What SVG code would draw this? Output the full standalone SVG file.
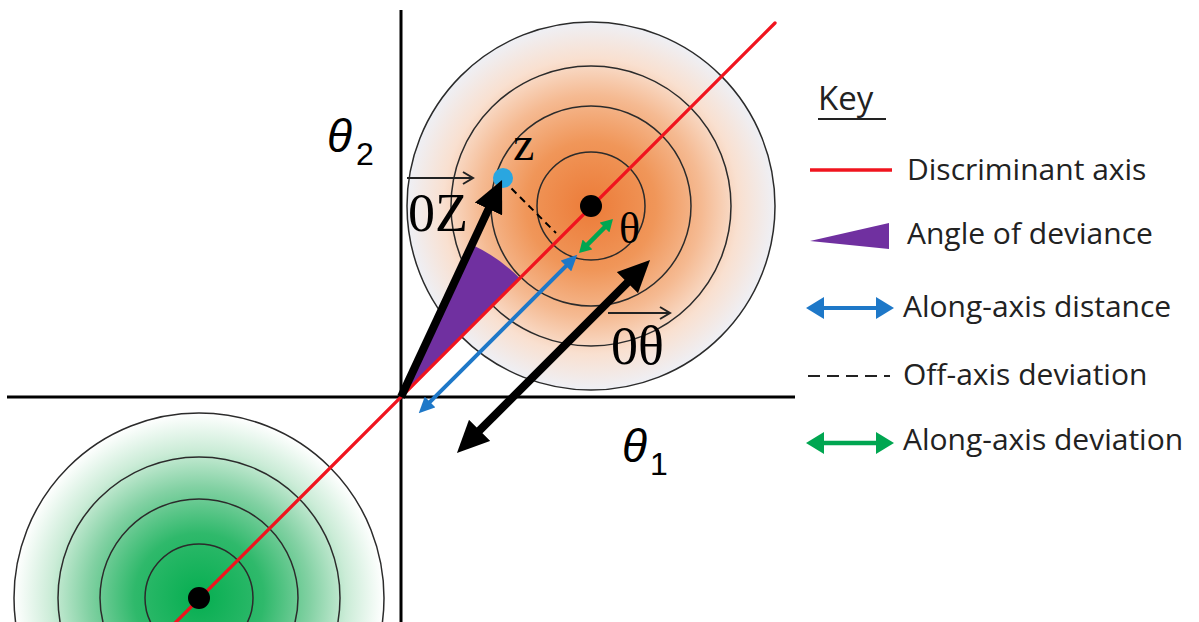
<svg xmlns="http://www.w3.org/2000/svg" width="1199" height="622" viewBox="0 0 1199 622">
<defs>
  <radialGradient id="gOrange" gradientUnits="userSpaceOnUse" cx="591" cy="206" r="185">
    <stop offset="0" stop-color="#EC7B38"/>
    <stop offset="0.35" stop-color="#F09659"/>
    <stop offset="0.6" stop-color="#F5BA92"/>
    <stop offset="0.8" stop-color="#F9E0D0"/>
    <stop offset="1" stop-color="#EEF0F6"/>
  </radialGradient>
  <radialGradient id="gGreen" gradientUnits="userSpaceOnUse" cx="199" cy="598" r="185">
    <stop offset="0" stop-color="#05AE50"/>
    <stop offset="0.35" stop-color="#2FB96B"/>
    <stop offset="0.6" stop-color="#82D1A3"/>
    <stop offset="0.8" stop-color="#CBECD7"/>
    <stop offset="1" stop-color="#FFFFFF"/>
  </radialGradient>
  <marker id="mBlack" markerUnits="userSpaceOnUse" viewBox="0 0 32 30" refX="12" refY="15" markerWidth="32" markerHeight="30" orient="auto-start-reverse">
    <path d="M0,0 L32,15 L0,30 z" fill="#000"/>
  </marker>
  <marker id="mBlue" markerUnits="userSpaceOnUse" viewBox="0 0 16 15" refX="6" refY="7.5" markerWidth="16" markerHeight="15" orient="auto-start-reverse">
    <path d="M0,0 L16,7.5 L0,15 z" fill="#1E78C8"/>
  </marker>
  <marker id="mGreen" markerUnits="userSpaceOnUse" viewBox="0 0 12 14" refX="4" refY="7" markerWidth="12" markerHeight="14" orient="auto-start-reverse">
    <path d="M0,0 L12,7 L0,14 z" fill="#00A651"/>
  </marker>
  <marker id="mKeyBlue" markerUnits="userSpaceOnUse" viewBox="0 0 18 22" refX="6" refY="11" markerWidth="18" markerHeight="22" orient="auto-start-reverse">
    <path d="M0,0 L18,11 L0,22 z" fill="#1E78C8"/>
  </marker>
  <marker id="mKeyGreen" markerUnits="userSpaceOnUse" viewBox="0 0 18 22" refX="6" refY="11" markerWidth="18" markerHeight="22" orient="auto-start-reverse">
    <path d="M0,0 L18,11 L0,22 z" fill="#00A651"/>
  </marker>
</defs>
<style>
  .ring { fill: none; stroke: #2b2b2b; stroke-width: 1.5; }
  .og { fill: url(#gOrange); }
  .gg { fill: url(#gGreen); }
  .axis { stroke: #000; stroke-width: 3; fill: none; }
  .red { stroke: #F0141E; stroke-width: 3.3; fill: none; }
  .blk { stroke: #000; stroke-width: 8; fill: none; }
  .blue { stroke: #1E78C8; stroke-width: 4; fill: none; }
  .green { stroke: #00A651; stroke-width: 4.5; fill: none; }
  .dash { stroke: #000; stroke-width: 2; stroke-dasharray: 7 5; fill: none; }
  .ovl { stroke: #222; stroke-width: 2; fill: none; }
  .key { font-family: "Open Sans", "Liberation Sans", sans-serif; font-size: 30px; fill: #222; }
  .title { font-size: 33px; }
  .sym { font-family: "Liberation Sans", sans-serif; font-style: italic; font-size: 46px; fill: #000; }
  .sub { font-family: "Liberation Sans", sans-serif; font-size: 32px; fill: #000; }
  .ser { font-family: "Liberation Serif", serif; fill: #000; }
</style>
<rect width="1199" height="622" fill="#fff"/>

<g id="green-distribution">
  <circle cx="199" cy="598" r="185" class="ring gg"/>
  <circle cx="199" cy="598" r="141" class="ring"/>
  <circle cx="199" cy="598" r="99" class="ring"/>
  <circle cx="199" cy="598" r="54" class="ring"/>
</g>

<g id="orange-distribution">
  <circle cx="591" cy="206" r="184" class="ring og"/>
  <circle cx="591" cy="206" r="140" class="ring"/>
  <circle cx="591" cy="206" r="100" class="ring"/>
  <circle cx="591" cy="206" r="54" class="ring"/>
</g>

<g id="axes">
  <line class="axis" x1="401" y1="10" x2="401" y2="622"/>
  <line class="axis" x1="7" y1="397" x2="795" y2="397"/>
  <text class="sym" x="327" y="152">θ</text><text class="sub" x="356" y="165">2</text>
  <text class="sym" x="622" y="462">θ</text><text class="sub" x="650" y="475">1</text>
</g>

<g id="angle-of-deviance">
  <path d="M401,397 L519.8,278.2 A168,168 0 0 0 472,244.7 Z" fill="#7030A0"/>
</g>

<g id="connectors">
  <line class="red" x1="174" y1="624" x2="775" y2="23" stroke-linecap="round"/>
  <line class="dash" x1="503" y1="180" x2="556" y2="233"/>
  <line class="blue" x1="425.8" y1="406.2" x2="570.2" y2="261.8" marker-start="url(#mBlue)" marker-end="url(#mBlue)"/>
  <line class="green" x1="584.7" y1="247.3" x2="607.3" y2="224.7" marker-start="url(#mGreen)" marker-end="url(#mGreen)"/>
</g>

<g id="point-z">
  <circle cx="503" cy="178" r="10" fill="#2AA6E0"/>
  <text class="ser" x="513" y="160" font-size="48">z</text>
</g>

<g id="vector-0z">
  <line class="blk" x1="401" y1="397" x2="493.6" y2="198.1" marker-end="url(#mBlack)"/>
  <line class="ovl" x1="407" y1="178" x2="473" y2="178"/>
  <polyline class="ovl" points="463,172 473,178 463,184"/>
  <text class="ser" x="408" y="231" font-size="54">0Z</text>
</g>

<g id="vector-0theta">
  <line class="blk" x1="471.1" y1="438.9" x2="635.9" y2="274.1" marker-start="url(#mBlack)" marker-end="url(#mBlack)"/>
  <line class="ovl" x1="608" y1="313" x2="670" y2="313"/>
  <polyline class="ovl" points="660,307 670,313 660,319"/>
  <text class="ser" x="611" y="364" font-size="54">0θ</text>
</g>

<g id="centers">
  <circle cx="591" cy="206" r="11" fill="#000"/>
  <circle cx="199" cy="598" r="11" fill="#000"/>
  <text class="ser" x="619" y="243" font-size="44">θ</text>
</g>

<g id="legend">
  <text class="key title" x="818" y="110">Key</text>
  <line x1="818" y1="119" x2="886" y2="119" stroke="#222" stroke-width="2"/>
  <line class="red" x1="810" y1="170" x2="892" y2="170"/>
  <text class="key" x="907" y="180">Discriminant axis</text>
  <polygon points="810,241 889,223 889,249" fill="#7030A0"/>
  <text class="key" x="907" y="244">Angle of deviance</text>
  <line class="blue" x1="818" y1="308" x2="882" y2="308" stroke-width="3" marker-start="url(#mKeyBlue)" marker-end="url(#mKeyBlue)"/>
  <text class="key" x="903" y="317">Along-axis distance</text>
  <line x1="808" y1="376" x2="890" y2="376" stroke="#222" stroke-width="2" stroke-dasharray="12 7"/>
  <text class="key" x="903" y="385">Off-axis deviation</text>
  <line class="green" x1="818" y1="443" x2="882" y2="443" stroke-width="3.5" marker-start="url(#mKeyGreen)" marker-end="url(#mKeyGreen)"/>
  <text class="key" x="903" y="450">Along-axis deviation</text>
</g>
</svg>
